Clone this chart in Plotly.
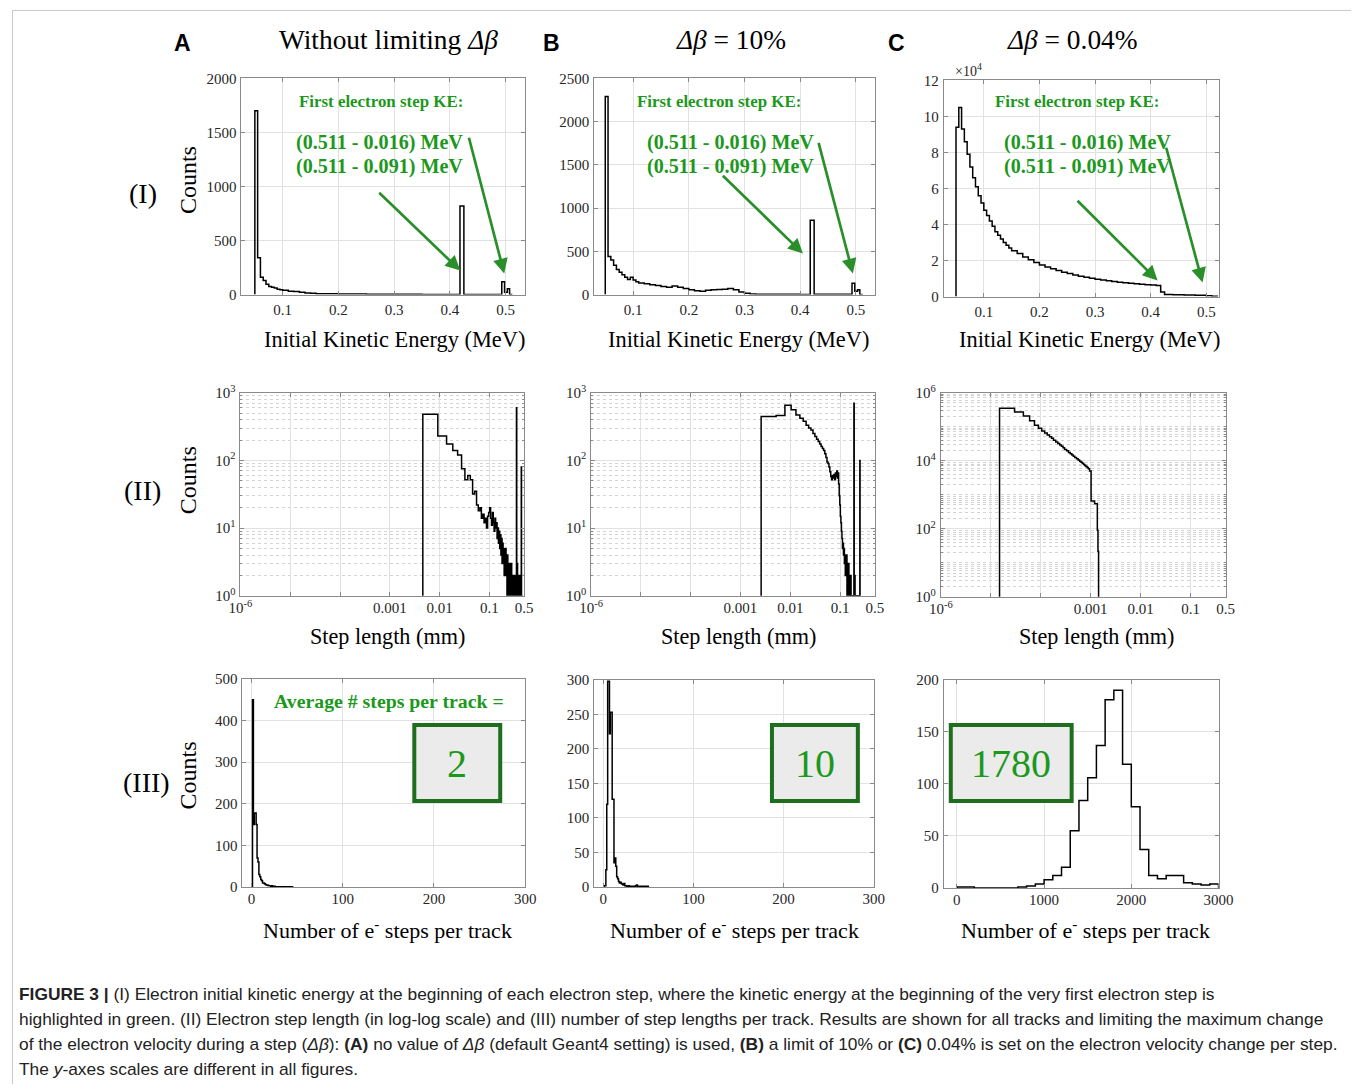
import plotly.graph_objects as go

SERIF = "Liberation Serif, Times New Roman, serif"
SANS = "Liberation Sans, Arial, sans-serif"

# page-to-picture calibration (measured): picture = C + S * figure_px
S_X, C_X = 0.9812, 10.3
S_Y, C_Y = 0.9828, 9.6
FW, FH = 1366, 1092

# ======================= DATA =======================
# Row I : initial kinetic energy (MeV) histograms
ke_A_edges = [0.050, 0.055, 0.060, 0.065, 0.070, 0.075, 0.080, 0.085, 0.090, 0.095,
              0.100, 0.110, 0.120, 0.130, 0.140, 0.150, 0.160, 0.180, 0.200, 0.250,
              0.300, 0.350, 0.400, 0.418, 0.425, 0.493, 0.498, 0.503, 0.507, 0.512]
ke_A_counts = [1700, 340, 160, 130, 95, 75, 68, 60, 50, 45,
               40, 32, 28, 22, 16, 12, 9, 7, 5, 4,
               3, 2, 0, 820, 0, 120, 22, 55, 0]

ke_B_edges = [0.050, 0.055, 0.060, 0.065, 0.070, 0.075, 0.080, 0.085, 0.090, 0.095,
              0.100, 0.105, 0.110, 0.120, 0.130, 0.140, 0.150, 0.160, 0.170, 0.180,
              0.190, 0.200, 0.210, 0.220, 0.230, 0.240, 0.250, 0.260, 0.270, 0.280,
              0.290, 0.300, 0.310, 0.320, 0.350, 0.400, 0.418, 0.425, 0.493, 0.498,
              0.503, 0.507, 0.512]
ke_B_counts = [2290, 440, 400, 340, 290, 260, 230, 200, 175, 200,
               170, 150, 135, 125, 115, 105, 95, 85, 100, 85,
               70, 55, 45, 40, 50, 55, 60, 62, 72, 55,
               30, 15, 8, 4, 3, 2, 860, 3, 130, 40,
               55, 0]

ke_C_edges = [0.050, 0.055, 0.060, 0.065, 0.070, 0.075, 0.080, 0.085, 0.090, 0.095,
              0.100, 0.105, 0.110, 0.115, 0.120, 0.125, 0.130, 0.135, 0.140, 0.145,
              0.150, 0.160, 0.170, 0.180, 0.190, 0.200, 0.210, 0.220, 0.230, 0.240,
              0.250, 0.260, 0.270, 0.280, 0.290, 0.300, 0.310, 0.320, 0.330, 0.340,
              0.350, 0.360, 0.370, 0.380, 0.390, 0.400, 0.410, 0.418, 0.425, 0.440,
              0.460, 0.480, 0.500, 0.510, 0.520]
ke_C_counts = [94000, 105000, 93000, 86000, 79000, 72000, 66000, 61000, 56000, 52000,
               48000, 45000, 42000, 39000, 36000, 34000, 32000, 30000, 28500, 27000,
               25500, 24000, 22000, 20500, 19000, 17500, 16500, 15500, 14500, 13500,
               12800, 12000, 11300, 10700, 10200, 9700, 9200, 8800, 8400, 8000,
               7700, 7400, 7100, 6900, 6600, 6400, 6200, 2500, 1200, 1000,
               900, 800, 500, 150]

# Row II : step length (mm), linear bins
sl_A_bin_width = 0.0046
sl_A_counts = [480, 230, 175, 140, 120, 75, 52, 60, 52, 32,
               35, 22, 18, 20, 14, 16, 12, 14, 10, 15,
               17, 20, 14, 11, 17, 12, 9, 14, 10, 12,
               7, 10, 6, 9, 5, 8, 4, 7, 3, 6,
               3, 5, 2, 4, 3, 5, 2, 3, 1, 4,
               2, 3, 1, 2, 0, 3, 1, 2, 1, 3,
               0, 2, 1, 2, 0, 1, 2, 0, 1, 2,
               0, 1, 0, 2, 1, 600, 0, 1, 3, 1,
               0, 2, 0, 1, 2, 0, 1, 0, 1, 0,
               2, 0, 1, 0, 80, 1, 0]

sl_B_bin_width = 0.0026
sl_B_counts = [445, 460, 650, 560, 470, 420, 380, 330, 300, 280,
               250, 225, 205, 190, 175, 160, 150, 140, 125, 110,
               95, 90, 80, 68, 58, 52, 60, 55, 62, 52,
               65, 58, 70, 55, 65, 45, 30, 22, 15, 12,
               9, 7, 5, 6, 4, 5, 3, 4, 2, 3,
               2, 4, 1, 3, 2, 1, 3, 1, 2, 0,
               2, 1, 2, 0, 1, 0, 1, 0, 1, 0,
               1, 0, 700, 1, 0, 2, 1, 0, 1, 0,
               0, 1, 0, 0, 1, 0, 0, 0, 1, 0,
               0, 0, 0, 0, 0, 100, 0]

sl_C_edges = [1.5e-5, 3.0e-5, 4.5e-5, 6.0e-5, 7.5e-5, 9.0e-5, 1.05e-4, 1.2e-4, 1.35e-4, 1.5e-4,
              1.65e-4, 1.8e-4, 2.0e-4, 2.2e-4, 2.4e-4, 2.6e-4, 2.8e-4, 3.0e-4, 3.3e-4, 3.6e-4,
              3.9e-4, 4.2e-4, 4.5e-4, 4.8e-4, 5.2e-4, 5.6e-4, 6.0e-4, 6.4e-4, 6.8e-4, 7.2e-4,
              7.6e-4, 8.0e-4, 8.5e-4, 9.0e-4, 9.5e-4, 1.02e-3, 1.2e-3, 1.36e-3, 1.40e-3, 1.44e-3]
sl_C_counts = [350000, 270000, 205000, 150000, 110000, 90000, 75000, 65000, 57000, 51000,
               46000, 40000, 35500, 32000, 29000, 26500, 24000, 21500, 19500, 17500,
               16000, 14800, 13600, 12500, 11400, 10500, 9700, 9000, 8400, 7800,
               7300, 6800, 6300, 5800, 5000, 650, 540, 90, 22]

# Row III : number of e- steps per track
st_A_first_edge = 1
st_A_bin_width = 1
st_A_counts = [450, 150, 178, 178, 150, 70, 60, 30, 25, 18,
               15, 10, 10, 8, 6, 5, 5, 4, 3, 3,
               2, 3, 2, 1, 2, 1, 1, 1, 0, 1,
               1, 0, 1, 0, 1, 0, 1, 0, 0, 1,
               0, 1, 0, 1]

st_B_first_edge = 1
st_B_bin_width = 1
st_B_counts = [2, 2, 25, 120, 298, 298, 222, 253, 253, 127,
               127, 35, 42, 30, 15, 12, 8, 6, 7, 5,
               4, 3, 5, 2, 2, 1, 1, 2, 1, 1,
               1, 0, 1, 1, 1, 2, 3, 1, 1, 0,
               1, 1, 1, 0, 1, 1, 0, 1, 1, 0]

st_C_edges = [0, 100, 200, 300, 400, 500, 600, 700, 800, 900, 1000,
              1100, 1200, 1300, 1400, 1500, 1600, 1700, 1800, 1900, 2000,
              2100, 2200, 2300, 2400, 2500, 2600, 2700, 2800, 2900, 3000]
st_C_counts = [1, 1, 0, 0, 0, 0, 0, 1, 2, 4,
               8, 12, 20, 55, 84, 106, 137, 181, 190, 119,
               78, 37, 12, 9, 12, 12, 5, 4, 3, 4]

avg_steps = ["2", "10", "1780"]
col_letters = ["A", "B", "C"]
col_titles = ["Without limiting <i>Δβ</i>", "<i>Δβ</i> = 10%", "<i>Δβ</i> = 0.04%"]
row_labels = ["(I)", "(II)", "(III)"]

# ======================= HELPERS =======================
def uniform_edges(first, width, n):
    return [first + width * k for k in range(n + 1)]


def step_xy(edges, counts, floor=0.0):
    xs, ys = [edges[0]], [floor]
    for e, c in zip(edges[:-1], counts):
        xs.append(e)
        ys.append(c if c > 0 else floor)
    xs.append(edges[-1]); ys.append(counts[-1] if counts[-1] > 0 else floor)
    xs.append(edges[-1]); ys.append(floor)
    return xs, ys


FRAME = "#8a8a8a"
GRID = "#e1e1e1"
MINOR = "#d4d4d4"
GREEN = "#1c981c"
DKGREEN = "#1d6e1d"
ARROWG = "#2a8f2a"

sup = lambda e: "10<sup>%d</sup>" % e

def fx(x):
    return (x - C_X) / S_X

def fy(y):
    return (y - C_Y) / S_Y

def px(x):
    return fx(x) / FW

def py(y):
    return 1 - fy(y) / FH

def decade_minors(lo, hi, extra=()):
    vals = []
    for d in range(lo, hi):
        for m in range(2, 10):
            vals.append(m * 10 ** d)
    return vals + list(extra)

# panel layout: (left, top, right, bottom) in reference pixels
BOX = [
    (240, 78, 524, 294), (593, 78, 874, 294), (943, 80, 1218, 296),
    (239, 392, 523, 595), (590, 392, 874, 595), (940, 392, 1225, 596),
    (241, 678, 524, 886), (593, 679, 873, 886), (943, 679, 1218, 887),
]
XSTAND = [1, 1, 1, -2, -2, -2, -2, -2, -2]

logx_vals = [1e-6, 1e-5, 1e-4, 1e-3, 1e-2, 1e-1, 0.5]
logx_text = [sup(-6), "", "", "0.001", "0.01", "0.1", "0.5"]

panels = [
    dict(edges=ke_A_edges, counts=ke_A_counts, xr=[0.026, 0.535], xt=[0.1, 0.2, 0.3, 0.4, 0.5],
         yr=[0, 2000], yt=[0, 500, 1000, 1500, 2000]),
    dict(edges=ke_B_edges, counts=ke_B_counts, xr=[0.030, 0.534], xt=[0.1, 0.2, 0.3, 0.4, 0.5],
         yr=[0, 2500], yt=[0, 500, 1000, 1500, 2000, 2500]),
    dict(edges=ke_C_edges, counts=ke_C_counts, xr=[0.028, 0.522], xt=[0.1, 0.2, 0.3, 0.4, 0.5],
         yr=[0, 120000], yt=[0, 20000, 40000, 60000, 80000, 100000, 120000],
         ytt=["0", "2", "4", "6", "8", "10", "12"]),
    dict(edges=uniform_edges(sl_A_bin_width, sl_A_bin_width, len(sl_A_counts)), counts=sl_A_counts,
         logx=True, logy=True, xr=[-6, -0.301], xt=logx_vals, xtt=logx_text,
         yr=[0, 3], yt=[1, 10, 100, 1000], ytt=[sup(0), sup(1), sup(2), sup(3)],
         ymin=decade_minors(0, 3)),
    dict(edges=uniform_edges(sl_B_bin_width, sl_B_bin_width, len(sl_B_counts)), counts=sl_B_counts,
         logx=True, logy=True, xr=[-6, -0.301], xt=logx_vals, xtt=logx_text,
         yr=[0, 3], yt=[1, 10, 100, 1000], ytt=[sup(0), sup(1), sup(2), sup(3)],
         ymin=decade_minors(0, 3)),
    dict(edges=sl_C_edges, counts=sl_C_counts,
         logx=True, logy=True, xr=[-6, -0.301], xt=logx_vals, xtt=logx_text,
         yr=[0, 6], yt=[1, 100, 1e4, 1e6], ytt=[sup(0), sup(2), sup(4), sup(6)],
         ymin=decade_minors(0, 6, extra=(10, 1000, 1e5))),
    dict(edges=uniform_edges(st_A_first_edge, st_A_bin_width, len(st_A_counts)), counts=st_A_counts,
         xr=[-10, 300], xt=[0, 100, 200, 300], yr=[0, 500], yt=[0, 100, 200, 300, 400, 500]),
    dict(edges=uniform_edges(st_B_first_edge, st_B_bin_width, len(st_B_counts)), counts=st_B_counts,
         xr=[-10, 300], xt=[0, 100, 200, 300], yr=[0, 300], yt=[0, 50, 100, 150, 200, 250, 300]),
    dict(edges=st_C_edges, counts=st_C_counts,
         xr=[-150, 3000], xt=[0, 1000, 2000, 3000], yr=[0, 200], yt=[0, 50, 100, 150, 200]),
]

fig = go.Figure()
layout = {}

def axis(domain, anchor, rng, tv, tt=None, log=False, minor=None, standoff=None):
    d = dict(domain=domain, anchor=anchor, range=rng, tickmode="array", tickvals=tv,
             showline=True, mirror="ticks", linecolor=FRAME, linewidth=1,
             ticks="inside", ticklen=4, tickcolor=FRAME,
             showgrid=True, gridcolor=GRID, gridwidth=1, zeroline=False,
             tickfont=dict(family=SERIF, size=15, color="#262626"), fixedrange=True)
    if tt is not None:
        d["ticktext"] = tt
    if log:
        d["type"] = "log"
    if minor:
        d["minor"] = dict(tickmode="array", tickvals=minor, showgrid=True, gridcolor=MINOR,
                          griddash="dot", ticks="inside", ticklen=2, tickcolor=FRAME)
    if standoff is not None:
        d["ticklabelstandoff"] = standoff
    return d

for i, (p, b, xs_) in enumerate(zip(panels, BOX, XSTAND), start=1):
    sfx = "" if i == 1 else str(i)
    l, t, r, bt = b
    layout["xaxis" + sfx] = axis([px(l), px(r)], "y" + sfx, p["xr"], p["xt"], p.get("xtt"),
                                 log=p.get("logx", False), standoff=xs_)
    layout["yaxis" + sfx] = axis([py(bt), py(t)], "x" + sfx, p["yr"], p["yt"], p.get("ytt"),
                                 log=p.get("logy", False), minor=p.get("ymin"), standoff=1)
    floor = 0.3 if p.get("logy") else 0.0
    xs, ys = step_xy(p["edges"], p["counts"], floor)
    fig.add_trace(go.Scatter(x=xs, y=ys, mode="lines", xaxis="x" + sfx, yaxis="y" + sfx,
                             line=dict(color="black", width=1.5, shape="hv"),
                             showlegend=False, hoverinfo="skip"))

# ======================= ANNOTATIONS =======================
ann = []
shapes = []

def text(s, x, y, size, color="black", family=SERIF, xanchor="center", **kw):
    ann.append(dict(text=s, x=px(x), y=py(y), xref="paper", yref="paper", showarrow=False,
                    font=dict(size=size, color=color, family=family),
                    xanchor=xanchor, yanchor="middle", **kw))

def arrow(tail, head):
    ann.append(dict(text="", x=px(head[0]), y=py(head[1]), xref="paper", yref="paper",
                    ax=fx(tail[0]) - fx(head[0]), ay=fy(tail[1]) - fy(head[1]),
                    axref="pixel", ayref="pixel",
                    showarrow=True, arrowhead=2, arrowsize=1.1, arrowwidth=2.7,
                    arrowcolor=ARROWG, standoff=0))

# column headers
for letter, title, lx, tx in zip(col_letters, col_titles, [181, 550, 896], [387, 730, 1072]):
    text("<b>%s</b>" % letter, lx, 43, 23, family=SANS)
    text(title, tx, 40, 27.4)

# row labels
for lab, ry, rx in zip(row_labels, [193, 490, 782], [141, 141, 145]):
    text(lab, rx, ry, 28)

# Counts
for cy in [180, 480, 775]:
    text("Counts", 186, cy, 24, textangle=-90)

# x titles
for xc in [393, 738, 1089]:
    text("Initial Kinetic Energy (MeV)", xc, 339, 22.4)
for xc in [386, 738, 1096]:
    text("Step length (mm)", xc, 636, 22.2)
for xc in [386, 734, 1085]:
    text("Number of e<sup>-</sup> steps per track", xc, 928, 22)

# x10^4 label
text("×10<sup>4</sup>", 968, 70, 14, color="#262626")

# green annotations row I
for fx_, lx in [(380, 378), (718, 730), (1076, 1087)]:
    text("<b>First electron step KE:</b>", fx_, 101, 16.9, color=GREEN)
    text("<b>(0.511 - 0.016) MeV</b>", lx, 142, 20.1, color=GREEN)
    text("<b>(0.511 - 0.091) MeV</b>", lx, 166, 20.1, color=GREEN)

arrow((378, 192), (459, 270))
arrow((468, 138), (503, 273))
arrow((722, 175), (802, 253))
arrow((818, 143), (852, 273))
arrow((1077, 200), (1157, 280))
arrow((1166, 148), (1202, 282))

text("<b>Average # steps per track =</b>", 388, 700, 19.8, color=GREEN)

for (x0, y0, x1, y1), val in zip([(413, 724, 499, 800), (771, 724, 857, 800), (950, 724, 1071, 800)], avg_steps):
    shapes.append(dict(type="rect", xref="paper", yref="paper", x0=px(x0), x1=px(x1), y0=py(y1), y1=py(y0),
                       line=dict(color=DKGREEN, width=4), fillcolor="#ebebeb", layer="above"))
    text(val, (x0 + x1) / 2, (y0 + y1) / 2 + 1, 40, color=GREEN)

# outer frame lines (top and left), as close to the page edge as the page allows
shapes.append(dict(type="line", xref="paper", yref="paper", x0=0.0004, x1=1, y0=0.9996, y1=0.9996,
                   line=dict(color="#c8c8c8", width=1)))
shapes.append(dict(type="line", xref="paper", yref="paper", x0=0.0004, x1=0.0004, y0=0, y1=0.9996,
                   line=dict(color="#c8c8c8", width=1)))

# caption
cap = [
    "<b>FIGURE 3 |</b> (I) Electron initial kinetic energy at the beginning of each electron step, where the kinetic energy at the beginning of the very first electron step is",
    "highlighted in green. (II) Electron step length (in log-log scale) and (III) number of step lengths per track. Results are shown for all tracks and limiting the maximum change",
    "of the electron velocity during a step (<i>Δβ</i>): <b>(A)</b> no value of <i>Δβ</i> (default Geant4 setting) is used, <b>(B)</b> a limit of 10% or <b>(C)</b> 0.04% is set on the electron velocity change per step.",
    "The <i>y</i>-axes scales are different in all figures.",
]
for k, line in enumerate(cap):
    text(line, 15, 993 + 25 * k, 17.35, color="#222222", family=SANS, xanchor="left")

fig.update_layout(width=FW, height=FH, margin=dict(l=0, r=0, t=0, b=0),
                  paper_bgcolor="white", plot_bgcolor="white",
                  annotations=ann, shapes=shapes, **layout)
fig.write_html("out.html")
